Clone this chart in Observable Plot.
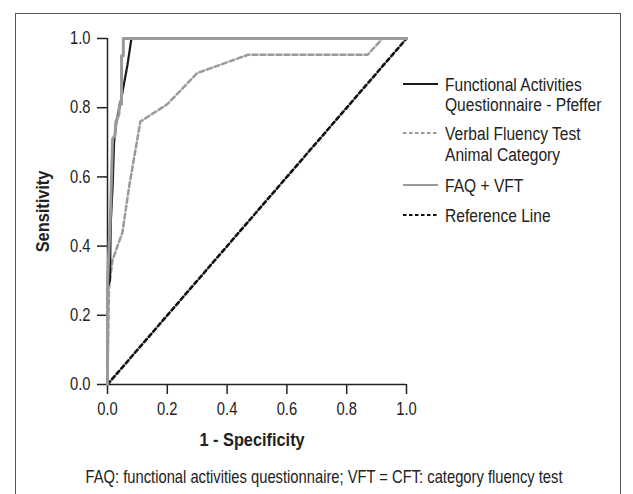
<!DOCTYPE html>
<html>
<head>
<meta charset="utf-8">
<script src="https://cdn.jsdelivr.net/npm/d3@7"></script>
<script src="https://cdn.jsdelivr.net/npm/@observablehq/plot@0.6"></script>
<style>
  html, body { margin: 0; padding: 0; background: #fff; }
  body { width: 633px; height: 494px; position: relative; overflow: hidden;
         font-family: "Liberation Sans", Arimo, sans-serif; }
  #frame { position: absolute; left: 15px; top: 13px; width: 606px; height: 520px;
           border: 1px solid #555; box-sizing: border-box; }
  #chart { position: absolute; left: 0; top: 0; }
</style>
</head>
<body>
<div id="frame"></div>
<div id="chart"></div>
<script>
// ROC curve data (1 - specificity, sensitivity)
const faqX   = [0, 0, 0.008, 0.011, 0.017, 0.022, 0.030, 0.047, 0.067, 0.080, 1];
const faqY   = [0, 0.28, 0.30, 0.47, 0.57, 0.70, 0.76, 0.83, 0.925, 1.0, 1.0];
const vftX   = [0, 0.005, 0.017, 0.050, 0.072, 0.110, 0.200, 0.300, 0.470, 0.870, 0.920, 1];
const vftY   = [0, 0.28, 0.36, 0.44, 0.57, 0.76, 0.81, 0.90, 0.953, 0.953, 1.0, 1.0];
const comboX = [0, 0, 0.010, 0.017, 0.025, 0.028, 0.038, 0.040, 0.047, 0.047, 0.053, 0.053, 1];
const comboY = [0, 0.29, 0.50, 0.71, 0.72, 0.76, 0.78, 0.81, 0.81, 0.95, 0.95, 1.0, 1.0];
const refX   = [0, 1];
const refY   = [0, 1];
const ticks  = [0, 0.2, 0.4, 0.6, 0.8, 1.0];
const seriesNames = ["Functional Activities|Questionnaire - Pfeffer", "Verbal Fluency Test|Animal Category", "FAQ + VFT", "Reference Line"];
const xTitle = "1 - Specificity";
const yTitle = "Sensitivity";
const caption = "FAQ: functional activities questionnaire; VFT = CFT: category fluency test";

const toRows = (xs, ys) => xs.map((x, i) => ({x, y: ys[i]}));
const faq = toRows(faqX, faqY), vft = toRows(vftX, vftY), combo = toRows(comboX, comboY), ref = toRows(refX, refY);

const styles = [
  {stroke: "#1a1a1a", strokeWidth: 2.2, dash: null},
  {stroke: "#9a9a9a", strokeWidth: 2.5, dash: "5,3"},
  {stroke: "#9a9a9a", strokeWidth: 3, dash: null},
  {stroke: "#111", strokeWidth: 2.6, dash: "4,3"}
];
const fmt = d3.format(".1f");
const font = '"Liberation Sans", Arimo, sans-serif';

const chart = Plot.plot({
  width: 633, height: 494,
  marginLeft: 107, marginRight: 227, marginTop: 38, marginBottom: 110,
  style: {fontFamily: font, fontSize: "18px", color: "#222", background: "transparent", overflow: "visible"},
  x: {domain: [0, 1]},
  y: {domain: [0, 1]},
  marks: [
    Plot.axisX({ticks, tickFormat: fmt, tickSize: 10, tickPadding: 8, label: null, strokeWidth: 1.5, fontSize: 18}),
    Plot.axisY({ticks, tickFormat: fmt, tickSize: 10, tickPadding: 7, label: null, strokeWidth: 1.5, fontSize: 18}),
    Plot.ruleY([0], {stroke: "#222", strokeWidth: 1.5}),
    Plot.ruleX([0], {stroke: "#222", strokeWidth: 1.5}),
    Plot.line(ref, {x: "x", y: "y", stroke: styles[3].stroke, strokeWidth: styles[3].strokeWidth, strokeDasharray: styles[3].dash}),
    Plot.line(vft, {x: "x", y: "y", stroke: styles[1].stroke, strokeWidth: styles[1].strokeWidth, strokeDasharray: styles[1].dash}),
    Plot.line(faq, {x: "x", y: "y", stroke: styles[0].stroke, strokeWidth: styles[0].strokeWidth}),
    Plot.line(combo, {x: "x", y: "y", stroke: styles[2].stroke, strokeWidth: styles[2].strokeWidth}),
    Plot.text([xTitle], {frameAnchor: "bottom", lineAnchor: "middle", textAnchor: "middle", dy: 55, dx: -5, fontWeight: "bold", fontSize: 19, fill: "#222"}),
    Plot.text([yTitle], {frameAnchor: "left", lineAnchor: "middle", textAnchor: "middle", dx: -65, rotate: -90, fontWeight: "bold", fontSize: 19, fill: "#222"}),
    Plot.text([caption], {frameAnchor: "bottom", lineAnchor: "middle", textAnchor: "middle", dy: 93, dx: 67, fontSize: 18, fill: "#222"})
  ]
});
document.getElementById("chart").appendChild(chart);

// Legend
const svg = d3.select(chart);
const rowsY = [[84, 104], [133, 154], [185], [215]];
const lg = svg.append("g").attr("font-family", font).attr("font-size", 19)
  .attr("fill", "#222").attr("text-anchor", "start");
seriesNames.forEach((name, i) => {
  const ys = rowsY[i];
  const s = styles[i];
  lg.append("line").attr("x1", 403).attr("x2", 438).attr("y1", ys[0]).attr("y2", ys[0])
    .attr("stroke", s.stroke).attr("stroke-width", i === 0 ? 2.2 : 2)
    .attr("stroke-dasharray", s.dash ? "3.5,2.5" : null);
  name.split("|").forEach((t, j) => {
    lg.append("text").attr("x", 445).attr("y", ys[j]).attr("dy", "0.35em").text(t);
  });
});

// Condense all text horizontally (the reference uses a condensed face)
chart.querySelectorAll("text").forEach(el => {
  const bb = el.getBBox();
  const anchor = getComputedStyle(el).textAnchor;
  const ax = anchor === "end" ? bb.x + bb.width : anchor === "middle" ? bb.x + bb.width / 2 : bb.x;
  const s = getComputedStyle(el).fontWeight >= 600 ? 0.86 : 0.82;
  const t = el.getAttribute("transform") || "";
  el.setAttribute("transform", `${t} translate(${ax},0) scale(${s},1) translate(${-ax},0)`);
});
</script>
</body>
</html>
